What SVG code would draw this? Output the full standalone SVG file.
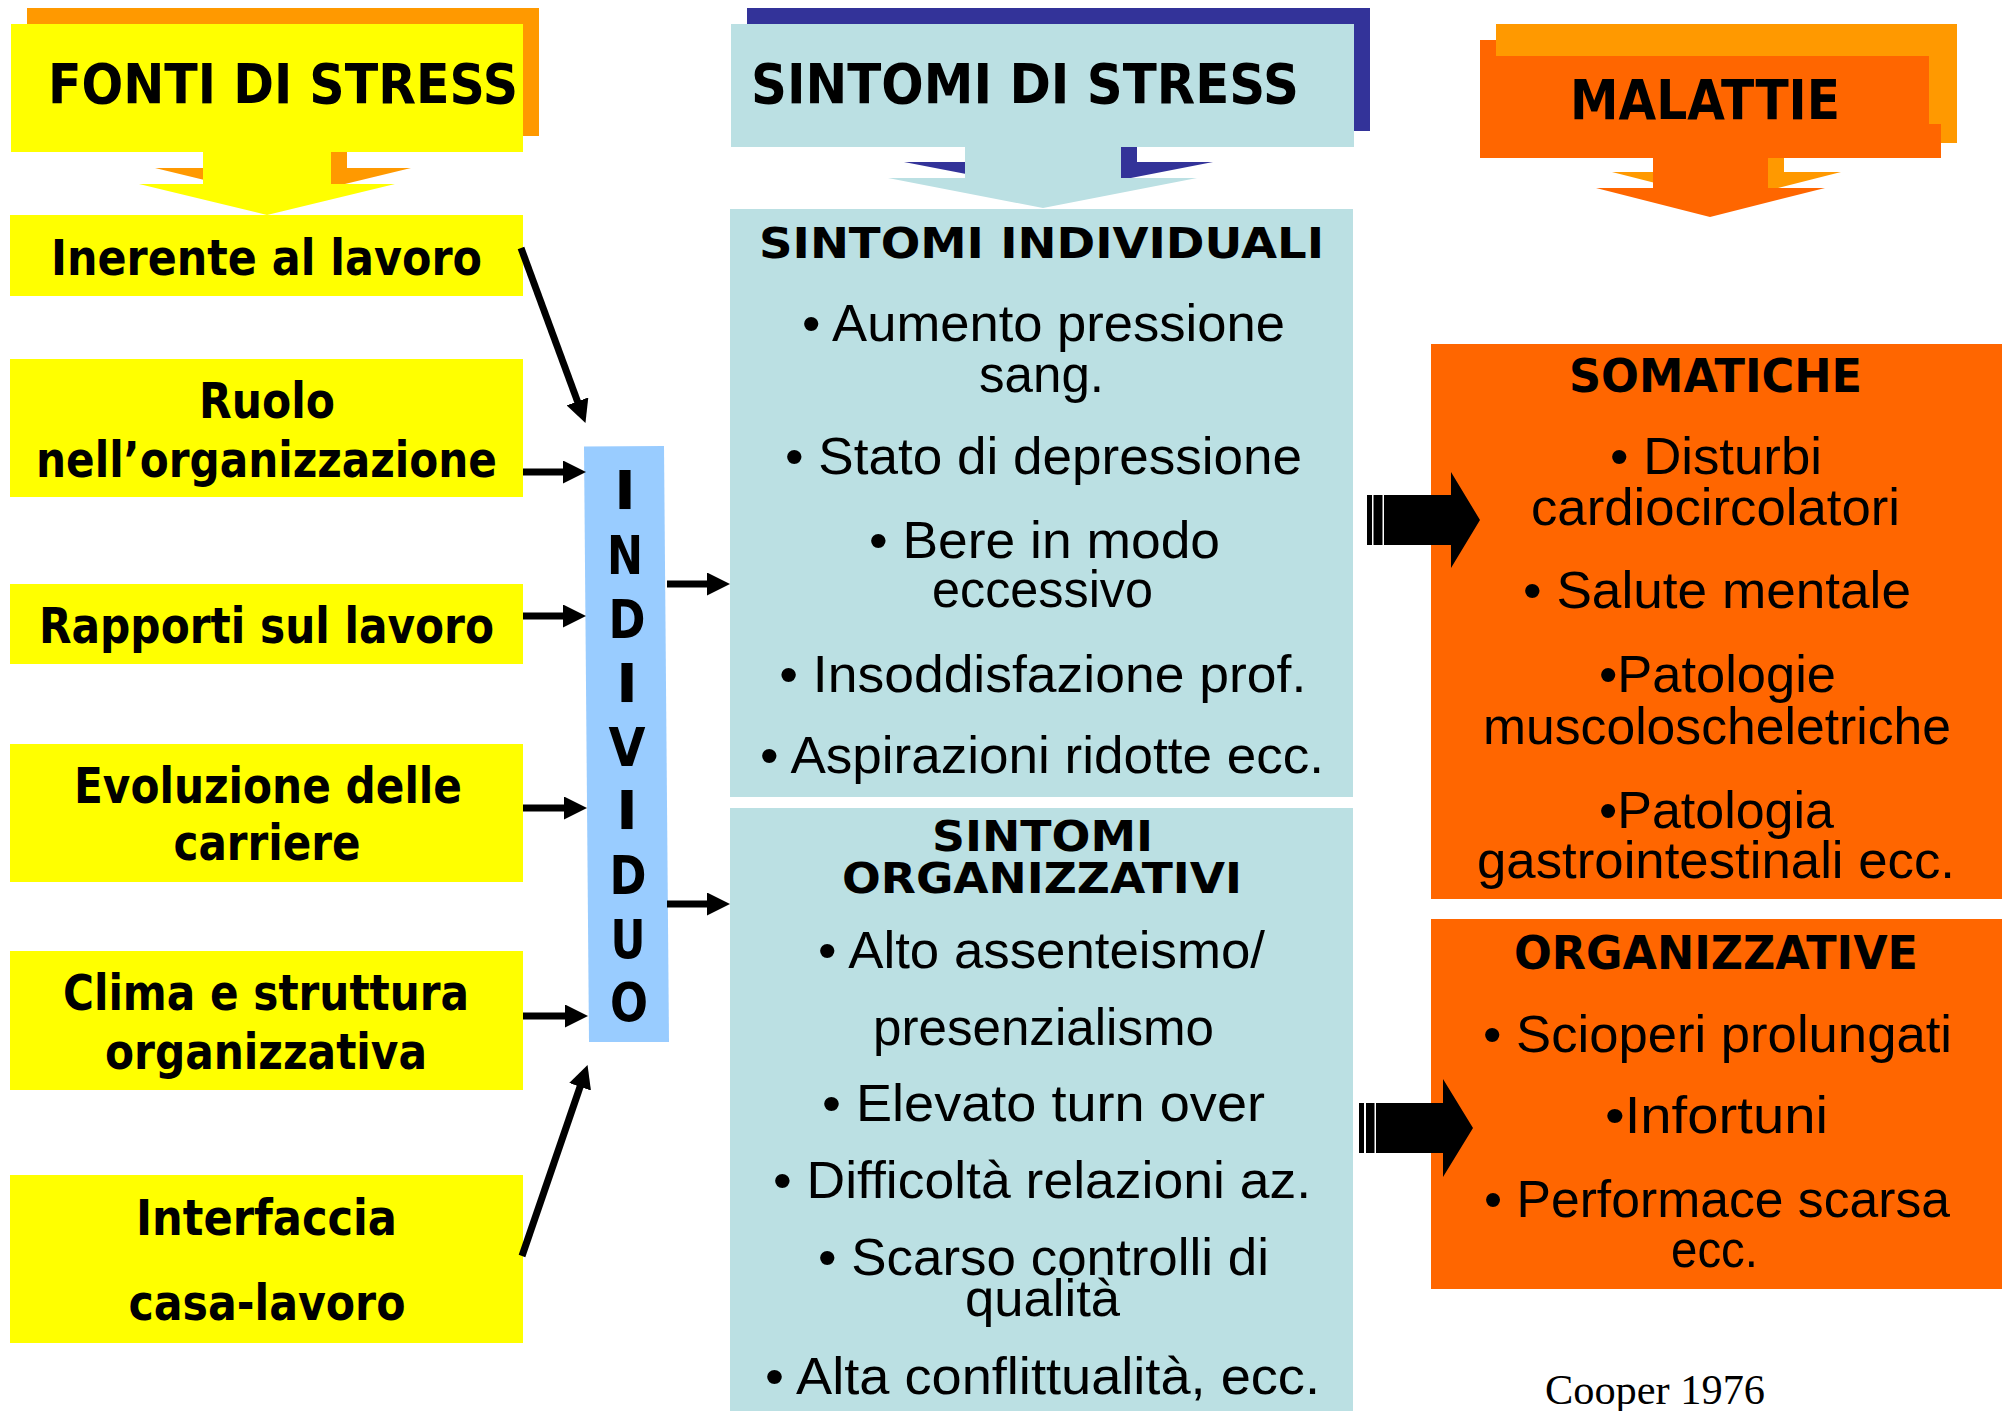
<svg xmlns="http://www.w3.org/2000/svg" width="2002" height="1411" viewBox="0 0 2002 1411">
<defs>
<style>
.t{font-family:"DejaVu Sans",Verdana,sans-serif;font-weight:bold;text-anchor:middle;fill:#000}
.t55{font-size:55px}
.t49{font-size:49px}
.t42{font-size:42px}
.t46{font-size:46px}
.t54{font-size:54px}
.r{font-family:"Liberation Sans",Arial,sans-serif;font-size:52px;text-anchor:middle;fill:#000}
.cit{font-family:"Liberation Serif","Times New Roman",serif;font-size:43px;fill:#000}
.yel{fill:#FFFF00}
.lb{fill:#BBE0E3}
.or{fill:#FF6600}
.arr{stroke:#000;stroke-width:7;fill:none;marker-end:url(#ah)}
.blk{fill:#000}
</style>
<marker id="ah" viewBox="0 0 23 23" refX="13" refY="11.5" markerWidth="23" markerHeight="23" markerUnits="userSpaceOnUse" orient="auto"><path d="M0,0 L23,11.5 L0,23 Z" fill="#000"/></marker>
</defs>
<rect width="2002" height="1411" fill="#FFFFFF"/>

<g id="title-fonti">
<path d="M27,8 H539 V136 H347 V168 H411 L283,199 L155,168 H219 V136 H27 Z" fill="#FF9900"/>
<path d="M11,24 H523 V152 H331 V184 H395 L267,215 L139,184 H203 V152 H11 Z" class="yel"/>
<text class="t t55" x="283" y="103" textLength="470" lengthAdjust="spacingAndGlyphs">FONTI DI STRESS</text>
</g>

<g id="title-sintomi">
<path d="M747,8 H1370 V131 H1137 V162 H1213 L1059,192 L904,162 H981 V131 H747 Z" fill="#333399"/>
<path d="M731,24 H1354 V147 H1121 V178 H1197 L1043,208 L888,178 H965 V147 H731 Z" class="lb"/>
<text class="t t55" x="1025" y="103" textLength="548" lengthAdjust="spacingAndGlyphs">SINTOMI DI STRESS</text>
</g>

<g id="title-malattie">
<path d="M1496,24 H1957 V143 H1784 V172 H1841 L1726,201 L1612,172 H1669 V143 H1496 Z" fill="#FF9900"/>
<path d="M1480,40 H1941 V158 H1768 V188 H1825 L1710,217 L1596,188 H1653 V158 H1480 Z" class="or"/>
<rect x="1496" y="24" width="461" height="100" fill="#FF9900"/>
<rect x="1496" y="56" width="433" height="68" class="or"/>
<text class="t t55" x="1705" y="119" textLength="270" lengthAdjust="spacingAndGlyphs">MALATTIE</text>
</g>

<g id="src-inerente">
<rect x="10" y="215" width="513" height="81" class="yel"/>
<text class="t t49" x="266.5" y="275" textLength="431" lengthAdjust="spacingAndGlyphs">Inerente al lavoro</text>
</g>
<g id="src-ruolo">
<rect x="10" y="359" width="513" height="138" class="yel"/>
<text class="t t49" x="267" y="418" textLength="136" lengthAdjust="spacingAndGlyphs">Ruolo</text>
<text class="t t49" x="266.5" y="477" textLength="461" lengthAdjust="spacingAndGlyphs">nell’organizzazione</text>
</g>
<g id="src-rapporti">
<rect x="10" y="584" width="513" height="80" class="yel"/>
<text class="t t49" x="266.5" y="643" textLength="455" lengthAdjust="spacingAndGlyphs">Rapporti sul lavoro</text>
</g>
<g id="src-evoluzione">
<rect x="10" y="744" width="513" height="138" class="yel"/>
<text class="t t49" x="268" y="803" textLength="388" lengthAdjust="spacingAndGlyphs">Evoluzione delle</text>
<text class="t t49" x="267" y="860" textLength="187" lengthAdjust="spacingAndGlyphs">carriere</text>
</g>
<g id="src-clima">
<rect x="10" y="951" width="513" height="139" class="yel"/>
<text class="t t49" x="266" y="1010" textLength="406" lengthAdjust="spacingAndGlyphs">Clima e struttura</text>
<text class="t t49" x="266" y="1069" textLength="322" lengthAdjust="spacingAndGlyphs">organizzativa</text>
</g>
<g id="src-interfaccia">
<rect x="10" y="1175" width="513" height="168" class="yel"/>
<text class="t t49" x="266.5" y="1235" textLength="261" lengthAdjust="spacingAndGlyphs">Interfaccia</text>
<text class="t t49" x="267" y="1320" textLength="277" lengthAdjust="spacingAndGlyphs">casa-lavoro</text>
</g>

<g id="individuo">
<polygon points="584,446.5 664,446 669,1042 589,1042" fill="#99CCFF"/>
<text class="t t54" x="625" y="509" textLength="22" lengthAdjust="spacingAndGlyphs">I</text>
<text class="t t54" x="625" y="574" textLength="36" lengthAdjust="spacingAndGlyphs">N</text>
<text class="t t54" x="627" y="638" textLength="37" lengthAdjust="spacingAndGlyphs">D</text>
<text class="t t54" x="627" y="702" textLength="22" lengthAdjust="spacingAndGlyphs">I</text>
<text class="t t54" x="627" y="766" textLength="37" lengthAdjust="spacingAndGlyphs">V</text>
<text class="t t54" x="627" y="829" textLength="22" lengthAdjust="spacingAndGlyphs">I</text>
<text class="t t54" x="628" y="894" textLength="37" lengthAdjust="spacingAndGlyphs">D</text>
<text class="t t54" x="628" y="958" textLength="35" lengthAdjust="spacingAndGlyphs">U</text>
<text class="t t54" x="629" y="1021" textLength="38" lengthAdjust="spacingAndGlyphs">O</text>
</g>

<g id="sintomi-individuali">
<rect x="730" y="209" width="623" height="588" class="lb"/>
<text class="t t42" x="1041.5" y="258" textLength="565" lengthAdjust="spacingAndGlyphs">SINTOMI INDIVIDUALI</text>
<text class="r" x="1043.5" y="341" textLength="483" lengthAdjust="spacingAndGlyphs">• Aumento pressione</text>
<text class="r" x="1041.5" y="392" textLength="125" lengthAdjust="spacingAndGlyphs">sang.</text>
<text class="r" x="1043.5" y="474" textLength="517" lengthAdjust="spacingAndGlyphs">• Stato di depressione</text>
<text class="r" x="1044.5" y="558" textLength="351" lengthAdjust="spacingAndGlyphs">• Bere in modo</text>
<text class="r" x="1042.5" y="607" textLength="221" lengthAdjust="spacingAndGlyphs">eccessivo</text>
<text class="r" x="1042.75" y="692" textLength="527" lengthAdjust="spacingAndGlyphs">• Insoddisfazione prof.</text>
<text class="r" x="1042" y="773" textLength="564" lengthAdjust="spacingAndGlyphs">• Aspirazioni ridotte ecc.</text>
</g>

<g id="sintomi-organizzativi">
<rect x="730" y="808" width="623" height="603" class="lb"/>
<text class="t t42" x="1042.5" y="851" textLength="221" lengthAdjust="spacingAndGlyphs">SINTOMI</text>
<text class="t t42" x="1042" y="893" textLength="400" lengthAdjust="spacingAndGlyphs">ORGANIZZATIVI</text>
<text class="r" x="1041.5" y="968" textLength="447" lengthAdjust="spacingAndGlyphs">• Alto assenteismo/</text>
<text class="r" x="1043.5" y="1045" textLength="341" lengthAdjust="spacingAndGlyphs">presenzialismo</text>
<text class="r" x="1043.5" y="1121" textLength="443" lengthAdjust="spacingAndGlyphs">• Elevato turn over</text>
<text class="r" x="1042" y="1198" textLength="538" lengthAdjust="spacingAndGlyphs">• Difficoltà relazioni az.</text>
<text class="r" x="1043.5" y="1275" textLength="451" lengthAdjust="spacingAndGlyphs">• Scarso controlli di</text>
<text class="r" x="1042.5" y="1316" textLength="155" lengthAdjust="spacingAndGlyphs">qualità</text>
<text class="r" x="1042.5" y="1394" textLength="555" lengthAdjust="spacingAndGlyphs">• Alta conflittualità, ecc.</text>
</g>

<g id="malattie-somatiche">
<rect x="1431" y="344" width="571" height="555" class="or"/>
<text class="t t46" x="1715.5" y="392" textLength="293" lengthAdjust="spacingAndGlyphs">SOMATICHE</text>
<text class="r" x="1716" y="474" textLength="212" lengthAdjust="spacingAndGlyphs">• Disturbi</text>
<text class="r" x="1715.5" y="525" textLength="369" lengthAdjust="spacingAndGlyphs">cardiocircolatori</text>
<text class="r" x="1717" y="608" textLength="388" lengthAdjust="spacingAndGlyphs">• Salute mentale</text>
<text class="r" x="1717.5" y="692" textLength="237" lengthAdjust="spacingAndGlyphs">•Patologie</text>
<text class="r" x="1717" y="744" textLength="468" lengthAdjust="spacingAndGlyphs">muscoloscheletriche</text>
<text class="r" x="1716.5" y="828" textLength="235" lengthAdjust="spacingAndGlyphs">•Patologia</text>
<text class="r" x="1716" y="878" textLength="478" lengthAdjust="spacingAndGlyphs">gastrointestinali ecc.</text>
</g>

<g id="malattie-organizzative">
<rect x="1431" y="919" width="571" height="370" class="or"/>
<text class="t t46" x="1716" y="969" textLength="404" lengthAdjust="spacingAndGlyphs">ORGANIZZATIVE</text>
<text class="r" x="1717.5" y="1052" textLength="469" lengthAdjust="spacingAndGlyphs">• Scioperi prolungati</text>
<text class="r" x="1716.5" y="1133" textLength="223" lengthAdjust="spacingAndGlyphs">•Infortuni</text>
<text class="r" x="1717" y="1217" textLength="466" lengthAdjust="spacingAndGlyphs">• Performace scarsa</text>
<text class="r" x="1714.5" y="1267" textLength="87" lengthAdjust="spacingAndGlyphs">ecc.</text>
</g>

<g id="citation">
<text class="cit" x="1545" y="1404" textLength="220" lengthAdjust="spacingAndGlyphs">Cooper 1976</text>
</g>

<g id="connectors">
<line class="arr" x1="521" y1="248" x2="582" y2="413.6"/>
<line class="arr" x1="523" y1="472" x2="576" y2="472"/>
<line class="arr" x1="523" y1="616" x2="576" y2="616"/>
<line class="arr" x1="523" y1="808" x2="577" y2="808"/>
<line class="arr" x1="523" y1="1016" x2="578" y2="1016"/>
<line class="arr" x1="522" y1="1256" x2="584.3" y2="1074.5"/>
<line class="arr" x1="667" y1="584" x2="720" y2="584"/>
<line class="arr" x1="667" y1="904" x2="720" y2="904"/>
<g class="blk">
<rect x="1367" y="495" width="5" height="50"/>
<rect x="1373.5" y="495" width="9" height="50"/>
<path d="M1384,495 H1451 V472 L1480,520 L1451,568 V545 H1384 Z"/>
<rect x="1359" y="1103" width="5" height="50"/>
<rect x="1366" y="1103" width="8.5" height="50"/>
<path d="M1376,1103 H1443 V1079 L1473,1128 L1443,1177 V1153 H1376 Z"/>
</g>
</g>
</svg>
